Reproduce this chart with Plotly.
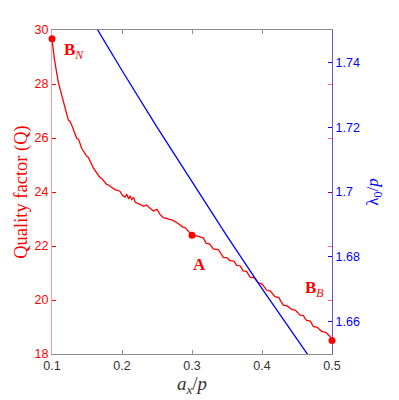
import plotly.graph_objects as go

# Red curve: quality factor vs a_x/p
ax_q = [0.1, 0.1033, 0.109, 0.1161, 0.1233, 0.1255, 0.1281, 0.1353, 0.1380, 0.1424,
        0.1496, 0.1520, 0.159, 0.1686, 0.1710, 0.1781, 0.1810, 0.19, 0.1971, 0.2005,
        0.2043, 0.2067, 0.2095, 0.2115, 0.2139, 0.2165, 0.219, 0.2257, 0.231, 0.235,
        0.2447, 0.25, 0.254, 0.259, 0.2681, 0.2720, 0.2781, 0.2871, 0.2900, 0.3,
        0.3050, 0.3114, 0.3160, 0.3204, 0.3250, 0.3304, 0.3380, 0.3447, 0.3500, 0.3539,
        0.3600, 0.3639, 0.3690, 0.3729, 0.3780, 0.3829, 0.3890, 0.3947, 0.4000, 0.4067,
        0.4120, 0.4184, 0.4240, 0.4304, 0.4360, 0.4423, 0.4480, 0.4543, 0.4590, 0.4633,
        0.4690, 0.4733, 0.4790, 0.4850, 0.4910, 0.4971, 0.5]
q_vals = [29.68, 28.94, 28.07, 27.34, 26.66, 26.62, 26.48, 25.99, 25.95, 25.62,
          25.32, 25.28, 24.89, 24.53, 24.50, 24.28, 24.25, 24.09, 24.03, 23.88,
          23.81, 23.92, 23.74, 23.86, 23.72, 23.80, 23.62, 23.54, 23.47, 23.52,
          23.30, 23.36, 23.18, 23.05, 22.98, 22.96, 22.87, 22.70, 22.68, 22.40,
          22.38, 22.32, 22.30, 22.10, 22.08, 21.89, 21.86, 21.58, 21.56, 21.46,
          21.44, 21.28, 21.26, 21.08, 21.06, 20.85, 20.82, 20.63, 20.60, 20.36,
          20.33, 20.12, 20.09, 19.81, 19.78, 19.65, 19.62, 19.44, 19.42, 19.25,
          19.22, 19.02, 18.99, 18.84, 18.80, 18.65, 18.50]

# Blue curve: lambda_0/p vs a_x/p
ax_l = [0.15, 0.2, 0.25, 0.3, 0.35, 0.4, 0.45, 0.5]
lam_vals = [1.7555, 1.7375, 1.7200, 1.7030, 1.6864, 1.6702, 1.6544, 1.6390]

# labelled points
pt_x = [0.1, 0.3, 0.5]
pt_q = [29.68, 22.40, 18.50]

x_ticks = [0.1, 0.2, 0.3, 0.4, 0.5]
q_ticks = [18, 20, 22, 24, 26, 28, 30]
lam_ticks = [1.66, 1.68, 1.70, 1.72, 1.74]
lam_text = ['1.66', '1.68', '1.7', '1.72', '1.74']

RED = '#ff0000'
BLUE = '#0000ff'
tickfont = dict(family='Liberation Sans, Arial', size=12.5)
serif = 'Liberation Serif, DejaVu Serif, serif'

fig = go.Figure()
fig.add_trace(go.Scatter(x=ax_l, y=lam_vals, mode='lines', yaxis='y2',
                         line=dict(color=BLUE, width=1.3), showlegend=False))
fig.add_trace(go.Scatter(x=ax_q, y=q_vals, mode='lines',
                         line=dict(color=RED, width=1.3), showlegend=False))
fig.add_trace(go.Scatter(x=pt_x, y=pt_q, mode='markers', cliponaxis=False,
                         marker=dict(color=RED, size=7), showlegend=False))

fig.add_annotation(x=0.1143, y=29.23, text='<b>B</b><sub><i>N</i></sub>', showarrow=False,
                   xanchor='left', font=dict(family=serif, size=17, color=RED))
fig.add_annotation(x=0.31, y=21.3, text='<b>A</b>', showarrow=False,
                   font=dict(family=serif, size=17, color=RED))
fig.add_annotation(x=0.4743, y=20.42, text='<b>B</b><sub><i>B</i></sub>', showarrow=False,
                   font=dict(family=serif, size=17, color=RED))

fig.update_layout(
    width=391, height=392,
    margin=dict(l=44, r=67, t=22, b=34),
    paper_bgcolor='white', plot_bgcolor='white',
    xaxis=dict(range=[0.1, 0.5], tickvals=x_ticks, ticktext=['0.1', '0.2', '0.3', '0.4', '0.5'],
               showgrid=False, zeroline=False, showline=True, linecolor='#8c8c8c',
               mirror='ticks', ticks='inside', ticklen=4, tickcolor='#8c8c8c',
               layer='below traces',
               tickfont=dict(tickfont, color='#333333'),
               title=dict(text='<i>a</i><sub><i>x</i></sub>/<i>p</i>', standoff=2,
                          font=dict(family=serif, size=19, color='#333333'))),
    yaxis=dict(range=[18, 30], tickvals=q_ticks, showgrid=False, zeroline=False,
               showline=True, linecolor='rgba(255,0,0,0.4)', ticks='inside', ticklen=4,
               tickcolor=RED, tickfont=dict(tickfont, color=RED), layer='below traces',
               title=dict(text='Quality factor (Q)', standoff=2,
                          font=dict(family=serif, size=18.5, color=RED))),
    yaxis2=dict(range=[1.65, 1.75], tickvals=lam_ticks, ticktext=lam_text,
                overlaying='y', side='right', anchor='x', showgrid=False, zeroline=False,
                showline=True, linecolor='#6a4fe0', ticks='inside', ticklen=4,
                tickcolor=BLUE, tickfont=dict(tickfont, color=BLUE), layer='below traces',
                title=dict(text='λ<sub>0</sub>/<i>p</i>', standoff=7,
                           font=dict(family=serif, size=17, color=BLUE))),
    yaxis3=dict(range=[18, 30], tickvals=q_ticks, overlaying='y', side='right', anchor='x',
                showgrid=False, zeroline=False, showline=False, ticks='inside', ticklen=4,
                tickcolor='rgba(255,0,0,0.6)', showticklabels=False, layer='below traces'),
)
fig.add_trace(go.Scatter(x=[None], y=[None], yaxis='y3', showlegend=False, hoverinfo='skip'))

fig.write_html("out.html")
